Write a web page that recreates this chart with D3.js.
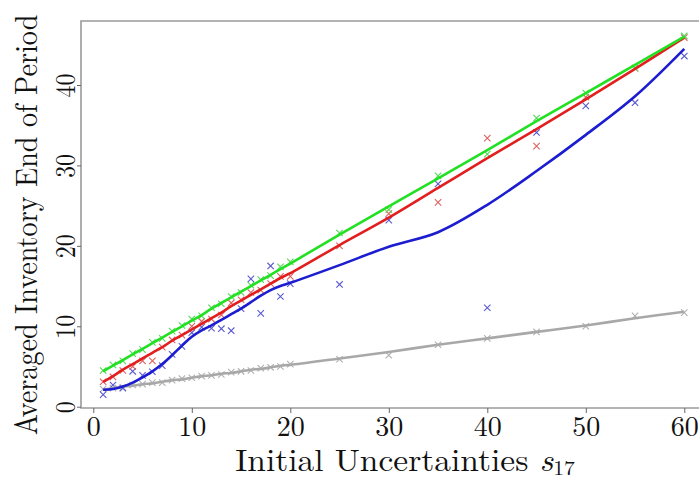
<!DOCTYPE html>
<html><head><meta charset="utf-8">
<script src="https://cdn.jsdelivr.net/npm/d3@7"></script>
<style>body{margin:0;background:#fff;}</style>
</head>
<body><svg id="c" width="699" height="478"></svg>
<script>
const xs = [1,2,3,4,5,6,7,8,9,10,11,12,13,14,15,16,17,18,19,20,25,30,35,40,45,50,55,60];
const greenLine = [4.4,5.1,5.8,6.5,7.2,7.9,8.6,9.3,10.0,10.7,11.4,12.2,12.9,13.6,14.3,15.0,15.7,16.4,17.1,17.8,21.4,24.9,28.4,31.9,35.5,39.0,42.5,46.0];
const greenPts  = [4.5,5.2,5.7,6.6,7.1,8.0,8.5,9.4,10.1,10.9,11.3,12.3,12.8,13.7,14.2,15.1,15.8,16.3,17.4,18.0,21.6,24.5,28.7,31.4,35.9,39.0,42.1,46.1];
const redLine = [3.1,3.8,4.6,5.3,6.0,6.7,7.4,8.2,8.9,9.6,10.3,11.0,11.7,12.5,13.2,13.9,14.6,15.3,16.0,16.6,20.1,23.5,27.2,30.9,34.5,38.2,42.0,45.9];
const redPts  = [3.1,3.7,4.5,5.0,5.7,5.7,7.4,8.3,8.9,10.0,10.6,10.9,11.4,12.9,13.3,14.2,14.5,15.3,16.2,16.2,20.0,24.0,25.4,33.4,32.4,38.5,42.1,45.9];
const blueLine = [2.1,2.2,2.5,3.0,3.65,4.4,5.3,6.4,7.6,8.7,9.5,10.1,10.8,11.5,12.2,13.0,13.8,14.5,15.0,15.4,17.6,19.9,21.7,25.1,29.3,33.8,38.6,44.5];
const bluePts  = [1.5,2.7,2.3,4.4,3.9,4.35,5.1,6.5,7.5,9.2,9.9,9.75,9.7,9.45,12.2,15.9,11.6,17.5,13.7,15.3,15.2,23.2,27.7,12.3,34.1,37.4,37.8,43.6];
const grayLine = [2.1,2.3,2.5,2.6,2.8,2.9,3.1,3.3,3.4,3.6,3.8,3.9,4.1,4.2,4.4,4.6,4.7,4.9,5.1,5.2,6.0,6.8,7.7,8.5,9.3,10.1,11.0,11.8];
const grayPts  = [2.2,2.3,2.4,2.7,2.8,3.0,3.0,3.3,3.5,3.6,3.8,3.9,4.0,4.3,4.4,4.5,4.8,4.9,5.0,5.3,5.9,6.4,7.7,8.5,9.3,10.0,11.3,11.7];
const xTicks = [0,10,20,30,40,50,60];
const yTicks = [0,10,20,30,40];

const series = [
  {line: grayLine, pts: grayPts, c: "#a8a8a8", m: "#b0b0b0"},
  {line: blueLine, pts: bluePts, c: "#1c1cd0", m: "#5a5ad0"},
  {line: redLine,  pts: redPts,  c: "#e21e1e", m: "#e06060"},
  {line: greenLine,pts: greenPts,c: "#22e022", m: "#55d855"}
];
const FONT = '"Latin Modern Roman","Liberation Serif",serif';

const svg = d3.select("#c");
const x = d3.scaleLinear().domain([0,60]).range([93.3,684.3]);
const y = d3.scaleLinear().domain([0,40]).range([406.7,85]);
const L = 81, T = 21, B = 408, R = 708;

svg.append("path").attr("d",`M${R},${T}H${L}V${B}H${R}`)
  .attr("fill","none").attr("stroke","#9a9a9a").attr("stroke-width",1.6);

const gx = svg.append("g").attr("transform",`translate(0,${B})`)
  .call(d3.axisBottom(x).tickValues(xTicks).tickSize(5).tickPadding(3).tickFormat(d3.format("d")));
gx.select(".domain").remove();
gx.selectAll("line").attr("stroke","#666");
gx.selectAll("text").style("font-family",FONT).style("font-size","28px").attr("fill","#111");

const gy = svg.append("g").attr("transform",`translate(${L},0)`)
  .call(d3.axisLeft(y).tickValues(yTicks).tickSize(4).tickFormat(d3.format("d")));
gy.select(".domain").remove();
gy.selectAll("line").attr("stroke","#666");
gy.selectAll("text").remove();
gy.selectAll(".tick").append("text")
  .attr("transform","translate(-6,0) rotate(-90) scale(0.88,1.05)")
  .attr("text-anchor","middle")
  .style("font-family",FONT).style("font-size","27px").attr("fill","#111")
  .text(d=>d);

svg.append("clipPath").attr("id","clp").append("rect")
  .attr("x",L).attr("y",T).attr("width",R-L).attr("height",B-T);
const plot = svg.append("g").attr("clip-path","url(#clp)");
const lineGen = d3.line().x((d,i)=>x(xs[i])).y(d=>y(d)).curve(d3.curveCatmullRom.alpha(0.5));
series.forEach(s=>{
  const ms = 3.2;
  plot.append("g").selectAll("path").data(s.pts).join("path")
    .attr("d",(d,i)=>{const cx=x(xs[i]),cy=y(d);return `M${cx-ms},${cy-ms}L${cx+ms},${cy+ms}M${cx-ms},${cy+ms}L${cx+ms},${cy-ms}`;})
    .attr("stroke",s.m).attr("stroke-width",1.1).attr("fill","none");
});
series.forEach(s=>{
  plot.append("path").datum(s.line).attr("d",lineGen)
    .attr("fill","none").attr("stroke",s.c).attr("stroke-width",2.6);
});

const xt = svg.append("text").attr("transform","translate(405,471) scale(1.08,1)").attr("text-anchor","middle")
  .style("font-family",FONT).style("font-size","31px").attr("fill","#111");
xt.append("tspan").text("Initial Uncertainties ");
xt.append("tspan").style("font-style","italic").text("s");
xt.append("tspan").style("font-size","20px").attr("dy",4).text("17");

svg.append("text").attr("transform","translate(37,225) rotate(-90) scale(0.94,1.05)")
  .attr("text-anchor","middle").style("font-family",FONT).style("font-size","30px").attr("fill","#111")
  .text("Averaged Inventory End of Period");
</script></body></html>
